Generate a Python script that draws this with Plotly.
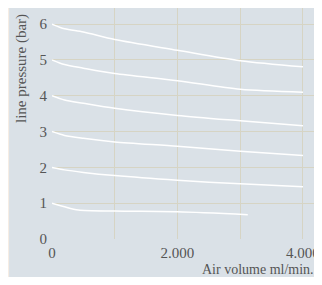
import plotly.graph_objects as go

# Data
x6 = [0, 200, 500, 1000, 2000, 3000, 4000]
y6 = [6.0, 5.87, 5.78, 5.57, 5.27, 4.98, 4.81]
x5 = [0, 200, 500, 1000, 2000, 3000, 4000]
y5 = [5.0, 4.87, 4.77, 4.62, 4.42, 4.18, 4.10]
x4 = [0, 200, 500, 1000, 2000, 3000, 4000]
y4 = [4.0, 3.88, 3.79, 3.65, 3.45, 3.30, 3.16]
x3 = [0, 200, 500, 1000, 2000, 3000, 4000]
y3 = [3.0, 2.89, 2.81, 2.71, 2.59, 2.45, 2.33]
x2 = [0, 200, 500, 1000, 2000, 3000, 4000]
y2 = [2.0, 1.93, 1.86, 1.77, 1.64, 1.54, 1.46]
x1 = [0, 200, 420, 1000, 2000, 3120]
y1 = [1.0, 0.90, 0.81, 0.78, 0.76, 0.68]

x_tickvals = [0, 2000, 4000]
y_tickvals = [0, 1, 2, 3, 4, 5, 6]

x_title = "Air volume ml/min."
y_title = "line pressure (bar)"

FONT = "Liberation Serif"
TXT = "#555555"
GRID = "#d6d4c4"
PANEL = "#dae1e7"
BEIGE = "#f6ede4"

fig = go.Figure()
for xs, ys in [(x6, y6), (x5, y5), (x4, y4), (x3, y3), (x2, y2), (x1, y1)]:
    fig.add_trace(go.Scatter(x=xs, y=ys, mode="lines",
                             line=dict(color="white", width=1.5, shape="spline", smoothing=0.8),
                             hoverinfo="skip", showlegend=False))

# the page places the figure 8px from the top-left corner
fig.update_layout(
    width=314, height=269,
    margin=dict(l=44, r=0, t=0, b=38),
    paper_bgcolor=BEIGE,
    plot_bgcolor=PANEL,
    separators=",.",
    font=dict(family=FONT, size=14, color=TXT),
    showlegend=False,
    shapes=[dict(type="rect", xref="paper", yref="paper",
                 x0=-0.159, x1=1.0, y0=-0.19, y1=1.0,
                 fillcolor=PANEL, line=dict(width=0), layer="below")],
    annotations=[
        dict(text=y_title, xref="paper", yref="paper", x=-0.115, y=0.74,
             textangle=-90, showarrow=False, xanchor="center", yanchor="middle",
             font=dict(family=FONT, size=15, color=TXT)),
        dict(text=x_title, xref="paper", yref="paper", x=0.976, y=-0.134,
             showarrow=False, xanchor="right", yanchor="middle",
             font=dict(family=FONT, size=14, color=TXT)),
    ],
)
fig.update_xaxes(range=[0, 4303], tickvals=x_tickvals, separatethousands=True,
                 showgrid=True, gridcolor=GRID, gridwidth=1,
                 minor=dict(dtick=1000, showgrid=True, gridcolor=GRID, gridwidth=1),
                 zeroline=False, showline=False, ticks="", ticklen=0,
                 ticklabelstandoff=3,
                 tickfont=dict(family=FONT, size=15, color=TXT))
fig.update_yaxes(range=[0, 6.45], tickvals=y_tickvals,
                 showgrid=True, gridcolor=GRID, gridwidth=1,
                 zeroline=False, showline=False, ticks="",
                 ticklabelstandoff=4,
                 tickfont=dict(family=FONT, size=15, color=TXT))

fig.write_html("out.html")
